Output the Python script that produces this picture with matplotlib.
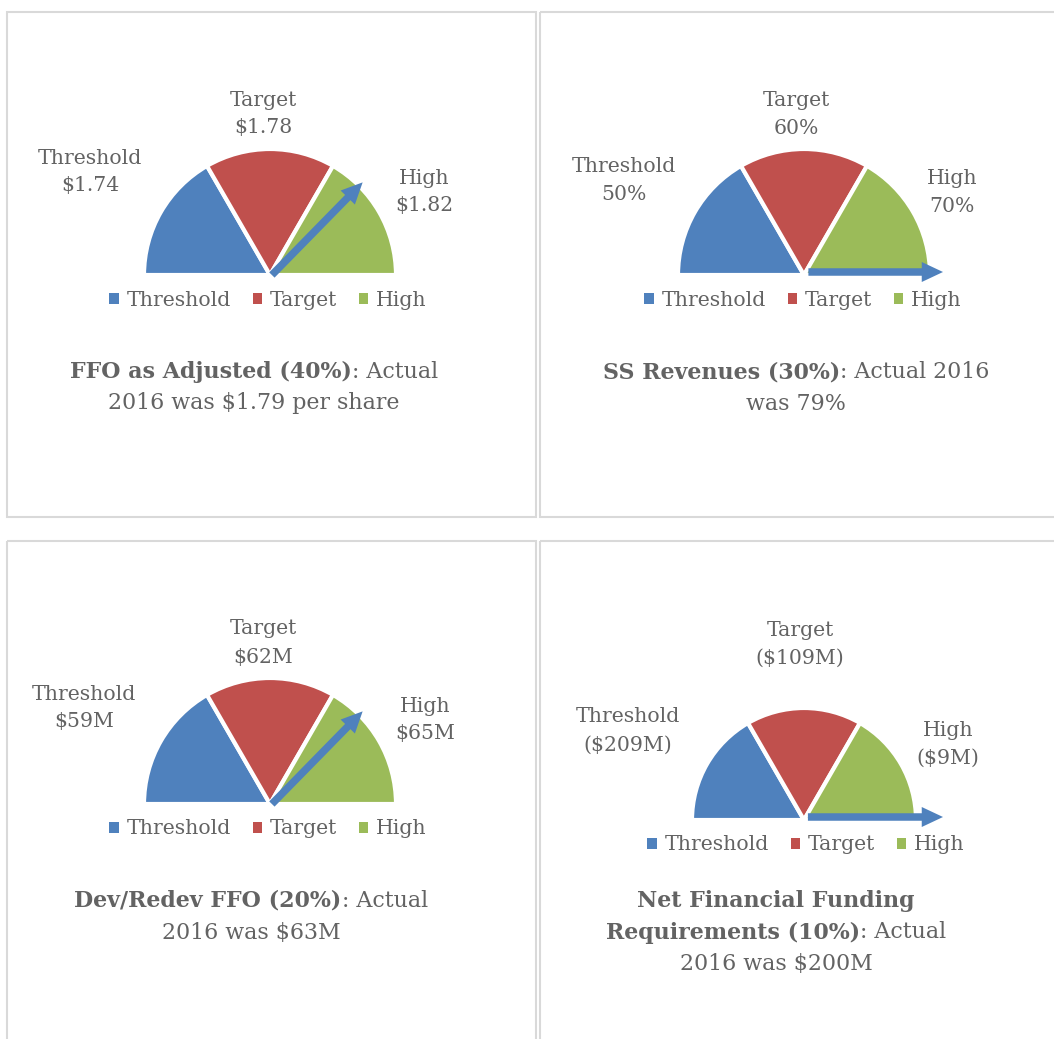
import numpy as np
import matplotlib
matplotlib.use("Agg")
import matplotlib.pyplot as plt
from matplotlib.patches import Rectangle, FancyArrowPatch

# ================= DATA =================
levels = ["Threshold", "Target", "High"]
segments = [1, 1, 1]          # three equal gauge bands (upper half of the pie)
threshold_vals = ["$1.74", "50%", "$59M", "($209M)"]
target_vals = ["$1.78", "60%", "$62M", "($109M)"]
high_vals = ["$1.82", "70%", "$65M", "($9M)"]
arrow_deg = [45, 0, 45, 0]    # needle angle, degrees from the right

captions = [
    [[("FFO as Adjusted (40%)", "bold"), (": Actual", "normal")],
     [("2016 was $1.79 per share", "normal")]],
    [[("SS Revenues (30%)", "bold"), (": Actual 2016", "normal")],
     [("was 79%", "normal")]],
    [[("Dev/Redev FFO (20%)", "bold"), (": Actual", "normal")],
     [("2016 was $63M", "normal")]],
    [[("Net Financial Funding", "bold")],
     [("Requirements (10%)", "bold"), (": Actual", "normal")],
     [("2016 was $200M", "normal")]],
]

colors = ["#4F81BD", "#C0504D", "#9BBB59"]
text_col = "#636363"
FONT = "DejaVu Serif"
FS = 14.7
CAP_FS = 15.9

# ================= LAYOUT (pixels) =================
W, H = 1054, 1039
centers = [(270, 275), (804, 275), (270, 804), (804, 820)]
radii = [126, 126, 126, 112]
needle_len = [131, 139, 131, 139]   # pixels from the centre
thr_pos = [(90, 158), (624, 166), (84, 694), (628, 717)]
tgt_pos = [(263, 100), (796, 100), (263, 629), (800, 630)]
high_pos = [(424, 178), (952, 178), (425, 706), (948, 730)]
legend_pos = [(268, 300), (803, 300), (268, 829), (806, 845)]
caption_pos = [(254, 372), (796, 372), (251, 901), (776, 901)]
line_gap = 28
cap_gap = 31.5
panels = [(7, 12, 529, 505), (540, 12, 520, 505),
          (7, 541, 529, 520), (540, 541, 520, 520)]

fig = plt.figure(figsize=(W / 100, H / 100), dpi=100)
bg = fig.add_axes([0, 0, 1, 1])
bg.set_xlim(0, W)
bg.set_ylim(H, 0)
bg.axis("off")

for (x, y, w, h) in panels:
    bg.add_patch(Rectangle((x, y), w, h, fill=False, edgecolor="#d9d9d9", lw=1.5))

renderer = fig.canvas.get_renderer()


def caption_line(x, y, parts):
    texts = []
    for s, wgt in parts:
        t = bg.text(0, y, s, fontsize=CAP_FS, family=FONT, weight=wgt,
                    color=text_col, ha="left", va="center")
        texts.append(t)
    widths = [t.get_window_extent(renderer).width for t in texts]
    start = x - sum(widths) / 2
    for t, wd in zip(texts, widths):
        t.set_x(start)
        start += wd


for i in range(4):
    cx, cy = centers[i]
    r = radii[i]
    ax = fig.add_axes([(cx - r) / W, 1 - (cy + r) / H, 2 * r / W, 2 * r / H])
    wedges, _ = ax.pie(segments + [sum(segments)], colors=colors + ["white"],
                       startangle=180, counterclock=False,
                       wedgeprops=dict(edgecolor="white", linewidth=3))
    wedges[-1].set_visible(False)
    ax.set_xlim(-1, 1)
    ax.set_ylim(-1, 1)
    ax.axis("off")

    # needle
    a = np.deg2rad(arrow_deg[i])
    L = needle_len[i] / r
    if arrow_deg[i] == 0:
        x0, y0 = 0.035, 3.0 / r
    else:
        x0, y0 = 0.015, 0.0
    needle = FancyArrowPatch((x0, y0), (L * np.cos(a), L * np.sin(a) + y0),
                             arrowstyle="simple,head_length=0.85,head_width=0.8,tail_width=0.3",
                             mutation_scale=18, color=colors[0], lw=0,
                             shrinkA=0, shrinkB=0, clip_on=False)
    ax.add_patch(needle)

    # legend
    lx, ly = legend_pos[i]
    leg = ax.legend(wedges[:3], levels, loc="center", ncol=3,
                    bbox_to_anchor=(lx / W, 1 - ly / H), bbox_transform=fig.transFigure,
                    frameon=False, handlelength=0.45, handleheight=0.45,
                    handletextpad=0.4, columnspacing=1.05,
                    prop=dict(family=FONT, size=FS))
    for t in leg.get_texts():
        t.set_color(text_col)
    for p in leg.get_patches():
        p.set_edgecolor("none")

    # level labels
    for (px, py), name, val in zip([thr_pos[i], tgt_pos[i], high_pos[i]], levels,
                                   [threshold_vals[i], target_vals[i], high_vals[i]]):
        bg.text(px, py, name, fontsize=FS, family=FONT, color=text_col,
                ha="center", va="center")
        bg.text(px, py + line_gap, val, fontsize=FS, family=FONT, color=text_col,
                ha="center", va="center")

    # caption
    capx, capy = caption_pos[i]
    for k, parts in enumerate(captions[i]):
        caption_line(capx, capy + k * cap_gap, parts)

fig.savefig("out.png", dpi=100)
